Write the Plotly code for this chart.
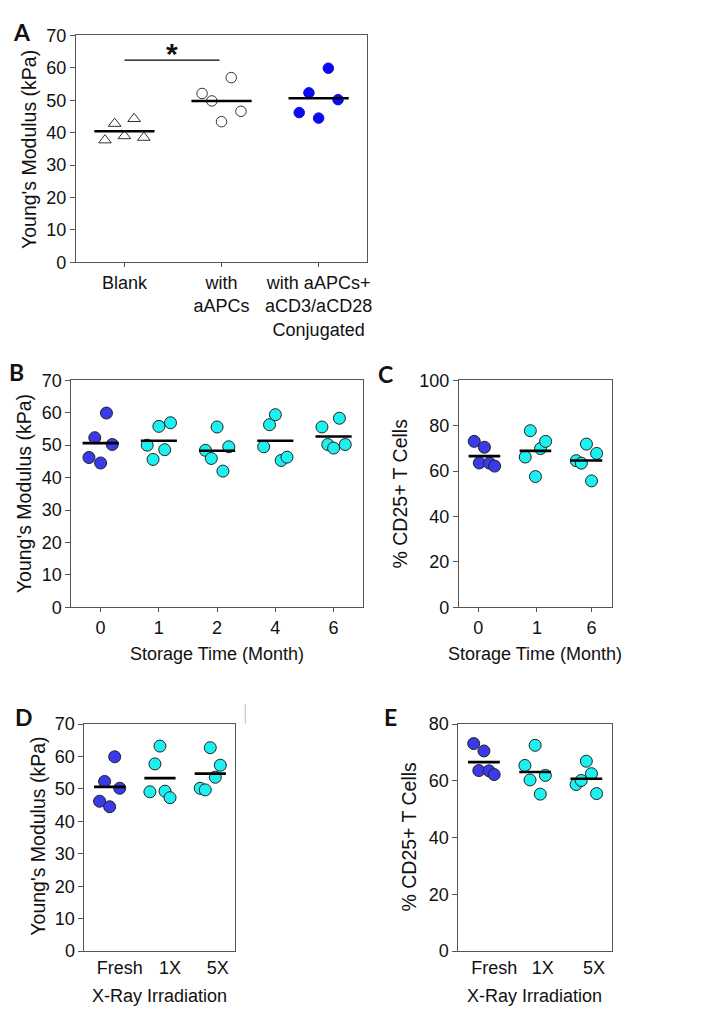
import numpy as np
import plotly.graph_objects as go

# ---------------- data ----------------
a_categories = ["Blank", "with<br>aAPCs", "with aAPCs+<br>aCD3/aCD28<br>Conjugated"]
a_blank = [37.7, 42.8, 39.0, 44.3, 38.5]
a_aapcs = [52.1, 49.8, 43.4, 57.0, 46.6]
a_conj = [46.2, 52.3, 44.5, 59.9, 50.2]
a_sig_level = 62.4

b_months = ["0", "1", "2", "4", "6"]
b_m0 = [46.2, 52.3, 44.5, 59.9, 50.2]
b_m1 = [50.0, 45.6, 55.8, 48.6, 56.9]
b_m2 = [48.4, 45.9, 55.6, 42.0, 49.5]
b_m4 = [49.5, 56.3, 59.4, 45.3, 46.3]
b_m6 = [55.6, 50.2, 49.1, 58.3, 50.2]

c_months = ["0", "1", "6"]
c_m0 = [73.1, 63.6, 70.5, 63.5, 62.2]
c_m1 = [66.2, 77.8, 57.6, 69.9, 73.1]
c_m6 = [64.6, 63.5, 71.9, 55.7, 67.8]

d_groups = ["Fresh", "1X", "5X"]
d_fresh = [46.2, 52.3, 44.5, 59.9, 50.2]
d_1x = [49.1, 57.7, 63.2, 49.3, 47.3]
d_5x = [50.2, 49.7, 62.7, 53.6, 57.3]

e_groups = ["Fresh", "1X", "5X"]
e_fresh = [73.1, 63.6, 70.5, 63.5, 62.2]
e_1x = [65.4, 60.3, 72.5, 55.3, 61.9]
e_5x = [58.7, 60.1, 66.9, 62.5, 55.5]

# ---------------- layout constants ----------------
W, H = 706, 1019
JITTER = [-0.2, -0.1, 0.0, 0.1, 0.2]
HALF = 0.31
FONT = "Liberation Sans, Arial, sans-serif"
AXC = "#555555"
TXT = "#111111"
FS = 18

BLUE = "#3a3aea"
CYAN = "#1cf0f0"
EDGE = "#222222"

boxes = {  # pixel boxes: left, right, top, bottom
    "": (76.4, 369.8, 26, 257.3),
    "2": (72, 365.3, 377.7, 609.3),
    "3": (462.2, 616.3, 377.7, 609.3),
    "4": (85.1, 237.1, 728.3, 960),
    "5": (461.6, 616.3, 728.3, 960),
}

fig = go.Figure()


def px(x):
    return x / W


def py(y):
    return 1 - y / H


def add_group(ax, idx, vals, symbol, color, line_color, size, lw=1.0):
    xs = [idx + j for j in JITTER[: len(vals)]]
    fig.add_trace(go.Scatter(
        x=xs, y=vals, mode="markers", xaxis="x" + ax, yaxis="y" + ax,
        marker=dict(symbol=symbol, color=color, size=size,
                    line=dict(color=line_color, width=lw)),
        showlegend=False, hoverinfo="y"))
    m = float(np.mean(vals))
    fig.add_trace(go.Scatter(
        x=[idx - HALF, idx + HALF], y=[m, m], mode="lines",
        xaxis="x" + ax, yaxis="y" + ax,
        line=dict(color="black", width=2.6), showlegend=False, hoverinfo="skip"))


# Panel A
add_group("", 1, a_blank, "triangle-up", "white", "#333333", 11)
add_group("", 2, a_aapcs, "circle", "white", "#333333", 10.5)
add_group("", 3, a_conj, "circle", "#0a0af0", "#0a0af0", 10.5)
fig.add_trace(go.Scatter(x=[1.0, 1.98], y=[a_sig_level, a_sig_level], mode="lines",
                         xaxis="x", yaxis="y", line=dict(color="black", width=1.3),
                         showlegend=False, hoverinfo="skip"))

# Panel B
for i, vals in enumerate([b_m0, b_m1, b_m2, b_m4, b_m6]):
    add_group("2", i, vals, "circle", BLUE if i == 0 else CYAN, EDGE, 12)

# Panel C
for i, vals in enumerate([c_m0, c_m1, c_m6]):
    add_group("3", i, vals, "circle", BLUE if i == 0 else CYAN, EDGE, 12)

# Panel D
for i, vals in enumerate([d_fresh, d_1x, d_5x]):
    add_group("4", i, vals, "circle", BLUE if i == 0 else CYAN, EDGE, 12)

# Panel E
for i, vals in enumerate([e_fresh, e_1x, e_5x]):
    add_group("5", i, vals, "circle", BLUE if i == 0 else CYAN, EDGE, 12)


def xaxis(key, rng, tickvals, ticktext, ticks="outside"):
    l, r, t, b = boxes[key]
    return dict(domain=[px(l), px(r)], range=rng, anchor="y" + key,
                tickvals=tickvals, ticktext=ticktext, ticks=ticks, ticklen=4,
                tickcolor=AXC, showline=True, linecolor=AXC, linewidth=1,
                mirror=True, showgrid=False, zeroline=False,
                tickfont=dict(size=FS, color=TXT, family=FONT))


def yaxis(key, rng, dtick):
    l, r, t, b = boxes[key]
    return dict(domain=[py(b), py(t)], range=rng, anchor="x" + key,
                dtick=dtick, tick0=0, ticks="outside", ticklen=5,
                tickcolor=AXC, showline=True, linecolor=AXC, linewidth=1,
                mirror=True, showgrid=False, zeroline=False,
                tickfont=dict(size=FS, color=TXT, family=FONT))


layout = dict(
    width=W, height=H, margin=dict(l=0, r=0, t=0, b=0),
    paper_bgcolor="white", plot_bgcolor="white",
    font=dict(family=FONT, size=FS, color=TXT),
    xaxis=xaxis("", [0.5, 3.5], [1, 2, 3], a_categories),
    yaxis=yaxis("", [0, 70], 10),
    xaxis2=xaxis("2", [-0.5, 4.5], list(range(5)), b_months),
    yaxis2=yaxis("2", [0, 70], 10),
    xaxis3=xaxis("3", [-0.5, 2.5], [-0.12, 1.03, 2.1], c_months),
    yaxis3=yaxis("3", [0, 100], 20),
    xaxis4=xaxis("4", [-0.5, 2.5], [0.2, 1.2, 2.15], d_groups, ticks=""),
    yaxis4=yaxis("4", [0, 70], 10),
    xaxis5=xaxis("5", [-0.5, 2.5], [0.2, 1.15, 2.15], e_groups, ticks=""),
    yaxis5=yaxis("5", [0, 80], 20),
)

annotations = []


def label(text, x, y, size=FS, angle=0, bold=False, fam=FONT):
    annotations.append(dict(
        text=("<b>%s</b>" % text) if bold else text, x=px(x), y=py(y),
        xref="paper", yref="paper", showarrow=False, textangle=angle,
        xanchor="center", yanchor="middle",
        font=dict(size=size, family=fam, color=TXT)))


# panel letters
for t, x, y in [("A", 22, 22), ("B", 17, 369), ("C", 388, 371),
                ("D", 24, 721), ("E", 393, 721)]:
    label(t, x, y, size=23, bold=True, fam="Lato, Open Sans, sans-serif")

# y titles
label("Young's Modulus (kPa)", 29, 142, size=19.5, angle=-90)
label("Young's Modulus (kPa)", 24, 493, size=19.5, angle=-90)
label("% CD25+ T Cells", 403, 493, size=19.5, angle=-90)
label("Young's Modulus (kPa)", 38.5, 843, size=19.5, angle=-90)
label("% CD25+ T Cells", 412, 843, size=19.5, angle=-90)

# x titles
label("Storage Time (Month)", 219, 657)
label("Storage Time (Month)", 539, 657)
label("X-Ray Irradiation", 161, 1006)
label("X-Ray Irradiation", 538, 1006)

# significance star
label("*", 173, 44, size=30, bold=True)

layout["annotations"] = annotations
layout["shapes"] = [dict(type="line", xref="paper", yref="paper",
                         x0=px(247), x1=px(247), y0=py(708), y1=py(728),
                         line=dict(color="#bbbbbb", width=1))]
fig.update_layout(**layout)
fig.write_html("out.html", config={"displayModeBar": False})
